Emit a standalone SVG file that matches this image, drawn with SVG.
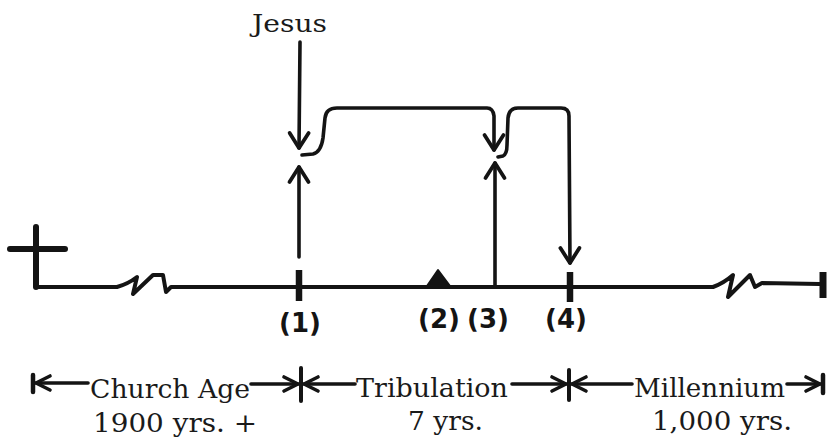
<svg xmlns="http://www.w3.org/2000/svg" width="832" height="437" viewBox="0 0 832 437">
  <style>
    .ln { fill: none; stroke: #141414; stroke-width: 3.6; stroke-linecap: round; stroke-linejoin: round; }
    .tick { fill: none; stroke: #141414; stroke-width: 6.5; stroke-linecap: butt; }
    .num { font-family: "DejaVu Sans", sans-serif; font-weight: bold; font-size: 26px; fill: #141414; text-anchor: middle; }
    .lbl { font-family: "DejaVu Serif", "Liberation Serif", serif; font-size: 26px; fill: #1a1a1a; }
  </style>
  <defs>
    <marker id="head" markerUnits="userSpaceOnUse" viewBox="-18 -12 20 24" refX="0" refY="0" markerWidth="20" markerHeight="24" orient="auto" overflow="visible">
      <path d="M-15,-9.5 L0,0 L-15,9.5" fill="none" stroke="#141414" stroke-width="3.8" stroke-linecap="round" stroke-linejoin="round"/>
    </marker>
    <marker id="small" markerUnits="userSpaceOnUse" viewBox="-16 -9 18 18" refX="0" refY="0" markerWidth="18" markerHeight="18" orient="auto" overflow="visible">
      <path d="M-14,-7 L0,0 L-14,7" fill="none" stroke="#141414" stroke-width="3.6" stroke-linecap="round" stroke-linejoin="round"/>
    </marker>
  </defs>
  <rect x="0" y="0" width="832" height="437" fill="#ffffff"/>

  <g id="timeline">
    <path class="ln" d="M36,227 L36,287" style="stroke-width:6"/>
    <path class="ln" d="M10,249 L65,249" style="stroke-width:6"/>
    <path class="ln" style="stroke-width:4" d="M36,287 L117,287 Q128,284 137,277 L133,294 L153,275 L163,275 L166,292 L171,287 L713,287 Q724,283 733,275 L728,297 L750,275 L755,287 L762,283 L820,284"/>
    <path class="tick" d="M299,270 L299,301"/>
    <path class="tick" d="M570,272 L570,302"/>
    <path class="tick" d="M823,272 L823,298" style="stroke-width:7"/>
    <polygon points="427,286 438,270 450,286" fill="#141414" stroke="#141414" stroke-width="2" stroke-linejoin="round"/>
  </g>

  <g id="jesus">
    <text class="lbl" x="252" y="32" textLength="75" lengthAdjust="spacingAndGlyphs" style="font-size:25px">Jesus</text>
  </g>

  <g id="point1"><text class="num" x="300" y="332">(1)</text></g>
  <g id="point2"><text class="num" x="439" y="328">(2)</text></g>
  <g id="point3"><text class="num" x="488" y="328">(3)</text></g>
  <g id="point4"><text class="num" x="566" y="328">(4)</text></g>

  <g id="connectors">
    <path class="ln" d="M300,42 L299,148" marker-end="url(#head)"/>
    <path class="ln" d="M299,257 L299,167" marker-end="url(#head)"/>
    <path class="ln" d="M302,155 L313,154 Q321,152 323,138 L325,118 Q326,108 337,108 L487,108 Q493,108 494,116 L494,150" marker-end="url(#head)"/>
    <path class="ln" d="M495,287 L495,163" marker-end="url(#head)"/>
    <path class="ln" d="M498,157 L503,156 Q507,154 507,145 L508,118 Q509,108 518,108 L561,108 Q569,108 569,116 L570,263" marker-end="url(#head)"/>
  </g>

  <g id="spans">
    <path class="ln" d="M33,375 L33,392" style="stroke-width:4.5"/>
    <path class="ln" d="M88,383 L36,383" marker-end="url(#small)"/>
    <path class="ln" d="M251,384 L298,384" marker-end="url(#small)"/>
    <path class="ln" d="M301,368 L301,401" style="stroke-width:4"/>
    <path class="ln" d="M355,384 L304,384" marker-end="url(#small)"/>
    <path class="ln" d="M512,384 L566,384" marker-end="url(#small)"/>
    <path class="ln" d="M569,370 L569,400" style="stroke-width:4"/>
    <path class="ln" d="M632,384 L572,384" marker-end="url(#small)"/>
    <path class="ln" d="M787,384 L820,384" marker-end="url(#small)"/>
    <path class="ln" d="M823,375 L823,393" style="stroke-width:4.5"/>
  </g>

  <g id="church-age">
    <text class="lbl" x="90" y="398" textLength="160" lengthAdjust="spacingAndGlyphs">Church Age</text>
    <text class="lbl" x="93" y="432" textLength="164" lengthAdjust="spacingAndGlyphs">1900 yrs. +</text>
  </g>
  <g id="tribulation">
    <text class="lbl" x="356" y="397" textLength="152" lengthAdjust="spacingAndGlyphs">Tribulation</text>
    <text class="lbl" x="408" y="430" textLength="75" lengthAdjust="spacingAndGlyphs">7 yrs.</text>
  </g>
  <g id="millennium">
    <text class="lbl" x="634" y="397" textLength="151" lengthAdjust="spacingAndGlyphs">Millennium</text>
    <text class="lbl" x="652" y="430" textLength="140" lengthAdjust="spacingAndGlyphs">1,000 yrs.</text>
  </g>
</svg>
